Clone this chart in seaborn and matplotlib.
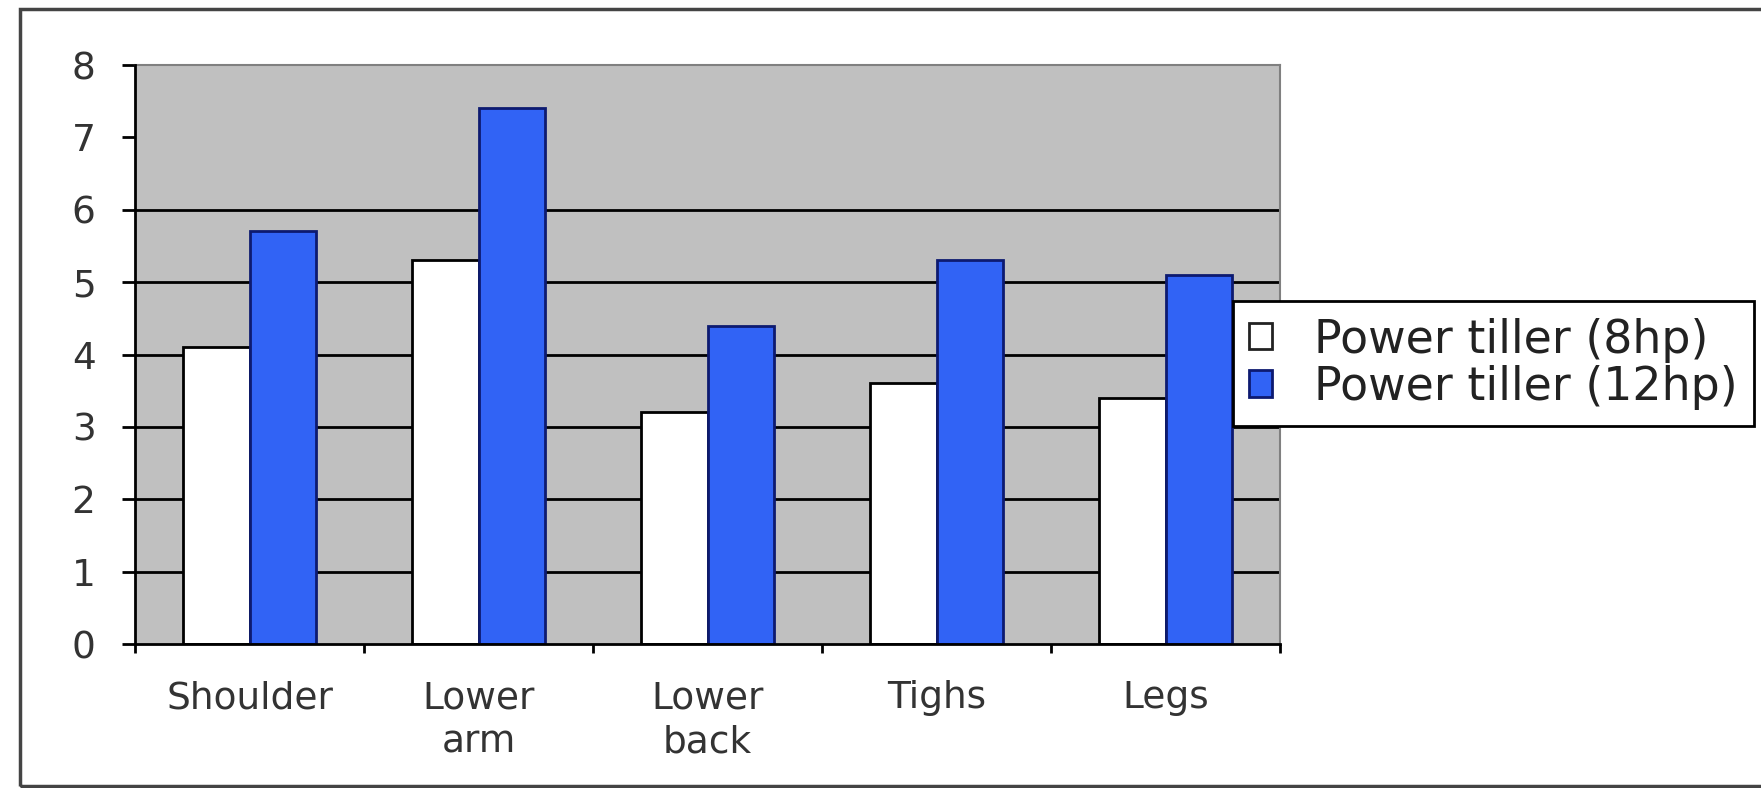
import matplotlib
matplotlib.use("Agg")
import matplotlib.pyplot as plt
import seaborn as sns
import pandas as pd
from matplotlib.patches import Patch, Rectangle

# Body regions and discomfort scores for the two power tillers
categories = ["Shoulder", "Lower\narm", "Lower\nback", "Tighs", "Legs"]
series_names = ["Power tiller (8hp)", "Power tiller (12hp)"]
values_8hp = [4.1, 5.3, 3.2, 3.6, 3.4]
values_12hp = [5.7, 7.4, 4.4, 5.3, 5.1]
y_ticks = [0, 1, 2, 3, 4, 5, 6, 7, 8]

df = pd.DataFrame({
    "part": categories * 2,
    "tiller": [series_names[0]] * len(categories) + [series_names[1]] * len(categories),
    "score": values_8hp + values_12hp,
})

sns.set_style("white")
plt.rcParams["font.family"] = ["DejaVu Sans"]

BLUE = "#3163f5"
NAVY = "#0d1a70"
palette = {series_names[0]: "white", series_names[1]: BLUE}

fig = plt.figure(figsize=(17.61, 7.88), dpi=100)
ax = fig.add_axes([0.0767, 0.1827, 0.6503, 0.7348])

sns.barplot(data=df, x="part", y="score", hue="tiller",
            order=categories, hue_order=series_names, palette=palette,
            width=0.58, gap=0, saturation=1, linewidth=2,
            legend=False, ax=ax)
for cont, ec in zip(ax.containers, ["black", NAVY]):
    for p in cont:
        p.set_edgecolor(ec)
        p.set_linewidth(2)
        p.set_zorder(3)

ax.set_facecolor("#c0c0c0")
ax.set_xlim(-0.5, len(categories) - 0.5)
ax.set_ylim(0, 8)
ax.set_yticks(y_ticks)
ax.set_xlabel("")
ax.set_ylabel("")

# horizontal gridlines behind the bars (the upper band is left open)
ax.grid(False)
grid_levels = [t for t in y_ticks if 0 < t < 7]
ax.hlines(grid_levels, -0.5, len(categories) - 0.5, colors="black",
          linewidth=2, zorder=1)

# tick marks between categories, labels centred under each group
ax.set_xticks(range(len(categories)))
ax.set_xticklabels(categories)
ax.set_xticks([i - 0.5 for i in range(len(categories) + 1)], minor=True)
ax.tick_params(axis="x", which="major", length=0, pad=26, labelsize=27,
               labelcolor="#333333")
ax.tick_params(axis="x", which="minor", length=6.5, width=2, color="black",
               direction="out", bottom=True)
ax.tick_params(axis="y", length=9.5, width=2, color="black", direction="out",
               pad=19, labelsize=27, labelcolor="#333333", left=True)
for lab in ax.get_xticklabels():
    lab.set_linespacing(1.3)

for side in ["left", "bottom"]:
    ax.spines[side].set_color("black")
    ax.spines[side].set_linewidth(2)
    ax.spines[side].set_zorder(4)
for side in ["top", "right"]:
    ax.spines[side].set_color("#808080")
    ax.spines[side].set_linewidth(1.5)

# legend box placed at the right, partly over the plot area
handles = [Patch(facecolor="white", edgecolor="#222222", linewidth=2),
           Patch(facecolor=BLUE, edgecolor=NAVY, linewidth=2)]
leg = fig.legend(handles=handles, labels=series_names, loc="upper left",
                 bbox_to_anchor=(0.700, 0.618), bbox_transform=fig.transFigure,
                 frameon=True, fancybox=False, edgecolor="black", framealpha=1,
                 fontsize=33, handlelength=0.5, handleheight=0.5,
                 handletextpad=0.92, labelspacing=0.05, borderpad=0.36,
                 borderaxespad=0)
leg.get_frame().set_linewidth(2)
for t in leg.get_texts():
    t.set_color("#222222")

# outer chart frame
fig.add_artist(Rectangle((0.0114, 0.003), 1.2, 0.9856, transform=fig.transFigure,
                         fill=False, edgecolor="#444444", linewidth=2.5))

fig.savefig("out.png", dpi=100)
